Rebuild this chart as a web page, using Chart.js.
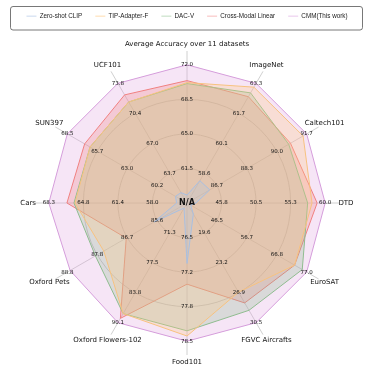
<!DOCTYPE html>
<html>
<head>
<meta charset="utf-8">
<script src="https://cdn.jsdelivr.net/npm/chart.js@4.4.1/dist/chart.umd.min.js"></script>
<style>
  html, body { margin: 0; padding: 0; background: #fff; }
  canvas { display: block; }
</style>
</head>
<body>
<canvas id="radar" width="373" height="370"></canvas>
<script>
// axes, clockwise from the top
const axisLabels = [
    "Average Accuracy over 11 datasets", "ImageNet", "Caltech101", "DTD",
    "EuroSAT", "FGVC Aircrafts", "Food101", "Oxford Flowers-102",
    "Oxford Pets", "Cars", "SUN397", "UCF101",
];

// per-axis tick labels, rings 1..4 (centre is N/A)
const axisTicks = [
    [61.5, 65.0, 68.5, 72.0],
    [58.6, 60.1, 61.7, 63.3],
    [86.7, 88.3, 90.0, 91.7],
    [45.8, 50.5, 55.3, 60.0],
    [46.5, 56.7, 66.8, 77.0],
    [19.6, 23.2, 26.9, 30.5],
    [76.5, 77.2, 77.8, 78.5],
    [71.3, 77.5, 83.8, 90.1],
    [85.6, 86.7, 87.8, 88.8],
    [58.0, 61.4, 64.8, 68.3],
    [60.2, 63.0, 65.7, 68.5],
    [63.7, 67.0, 70.4, 73.8],
];

const seriesNames = ["Zero-shot CLIP", "TIP-Adapter-F", "DAC-V", "Cross-Modal Linear", "CMM(This work)"];

const zeroShotClip = [58.8, 58.2, 86.3, 42.3, 37.6, 17.3, 77.0, 66.1, 85.7, 55.6, 58.5, 61.5];
const tipAdapterF = [70.2, 63.1, 91.5, 58.2, 72.9, 26.8, 78.4, 88.2, 87.5, 65.7, 66.4, 71.7];
const dacV = [70.1, 62.8, 90.7, 57.6, 75.5, 29.0, 78.3, 88.2, 87.8, 65.8, 66.4, 71.7];
const crossModalLinear = [70.4, 62.6, 90.8, 58.9, 72.9, 28.1, 77.4, 89.2, 86.7, 66.5, 66.9, 72.5];
const cmm = [72.0, 63.3, 91.7, 60.0, 77.0, 30.5, 78.5, 90.1, 88.7, 68.3, 68.5, 73.8];

// each axis has its own range: map a value onto ring units (ring k = tick k)
const toRing = (values) =>
    values.map((v, i) => {
        const t = axisTicks[i];
        const step = (t[3] - t[0]) / 3;
        const base = t[0] - step;
        return Math.max(0, (v - base) / step);
    });

const colors = [
    { line: "#a9bfe0", fill: "rgba(176,196,222,0.28)", legend: "#c9d9ee" },
    { line: "#f7c27f", fill: "rgba(255,200,130,0.28)", legend: "#ffdcae" },
    { line: "#8fbc8f", fill: "rgba(143,188,143,0.28)", legend: "#bfdcbf" },
    { line: "#f08080", fill: "rgba(240,128,128,0.28)", legend: "#f8bcbc" },
    { line: "#d59ddb", fill: "rgba(221,160,221,0.28)", legend: "#e9c8ec" },
];

const seriesData = [zeroShotClip, tipAdapterF, dacV, crossModalLinear, cmm];

const tickFont = "5.5px 'DejaVu Sans'";
const axisFont = "7px 'DejaVu Sans'";

const legendFrame = {
    id: "legendFrame",
    beforeInit(chart) {
        if (!chart.legend) return;
        const fit = chart.legend.fit;
        chart.legend.fit = function () {
            fit.call(this);
            this.height = 51;
        };
    },
    afterDraw(chart) {
        const { ctx } = chart;
        ctx.save();
        ctx.strokeStyle = "#555";
        ctx.lineWidth = 0.8;
        ctx.beginPath();
        ctx.roundRect(10.5, 6.5, 352, 23.5, 2.5);
        ctx.stroke();
        ctx.restore();
    },
};

const axisText = {
    id: "axisText",
    afterDatasetsDraw(chart) {
        const { ctx } = chart;
        const scale = chart.scales.r;
        ctx.save();
        ctx.textAlign = "center";
        ctx.textBaseline = "middle";
        ctx.fillStyle = "#111";
        ctx.font = tickFont;
        axisTicks.forEach((ticks, i) => {
            ticks.forEach((t, k) => {
                const p = scale.getPointPositionForValue(i, k + 1);
                ctx.fillText(t.toFixed(1), p.x, p.y);
            });
        });
        ctx.font = axisFont;
        axisLabels.forEach((label, i) => {
            const p = scale.getPointPositionForValue(i, 4.6);
            ctx.fillText(label, p.x, p.y);
        });
        ctx.font = "bold 8px 'DejaVu Sans'";
        ctx.fillText("N/A", scale.xCenter, scale.yCenter);
        ctx.restore();
    },
};

// datasets are drawn last-to-first, so CMM ends up at the bottom, zero-shot on top
new Chart(document.getElementById("radar"), {
    type: "radar",
    data: {
        labels: axisLabels,
        datasets: seriesData.map((values, i) => ({
            label: seriesNames[i],
            data: toRing(values),
            borderColor: colors[i].line,
            backgroundColor: colors[i].fill,
            pointBorderColor: colors[i].legend,
            borderWidth: 1,
            pointRadius: 0,
            pointHoverRadius: 0,
            fill: true,
        })),
    },
    options: {
        responsive: false,
        animation: false,
        layout: { padding: { left: 1, right: 0, top: 0, bottom: 15 } },
        scales: {
            r: {
                min: 0,
                max: 4.4,
                ticks: { display: false, stepSize: 1 },
                pointLabels: { display: false },
                angleLines: { color: "#c4c4c4", lineWidth: 0.8 },
                grid: {
                    circular: true,
                    lineWidth: 0.8,
                    color: (c) =>
                        c.tick && c.tick.value >= 1 && c.tick.value <= 3 ? "#b9b9b9" : "rgba(0,0,0,0)",
                },
            },
        },
        plugins: {
            legend: {
                position: "top",
                labels: {
                    usePointStyle: true,
                    pointStyle: "line",
                    pointStyleWidth: 10,
                    padding: 13,
                    color: "#222",
                    font: { family: "'Liberation Sans'", size: 6.3 },
                },
            },
            tooltip: { enabled: false },
        },
    },
    plugins: [legendFrame, axisText],
});
</script>
</body>
</html>
